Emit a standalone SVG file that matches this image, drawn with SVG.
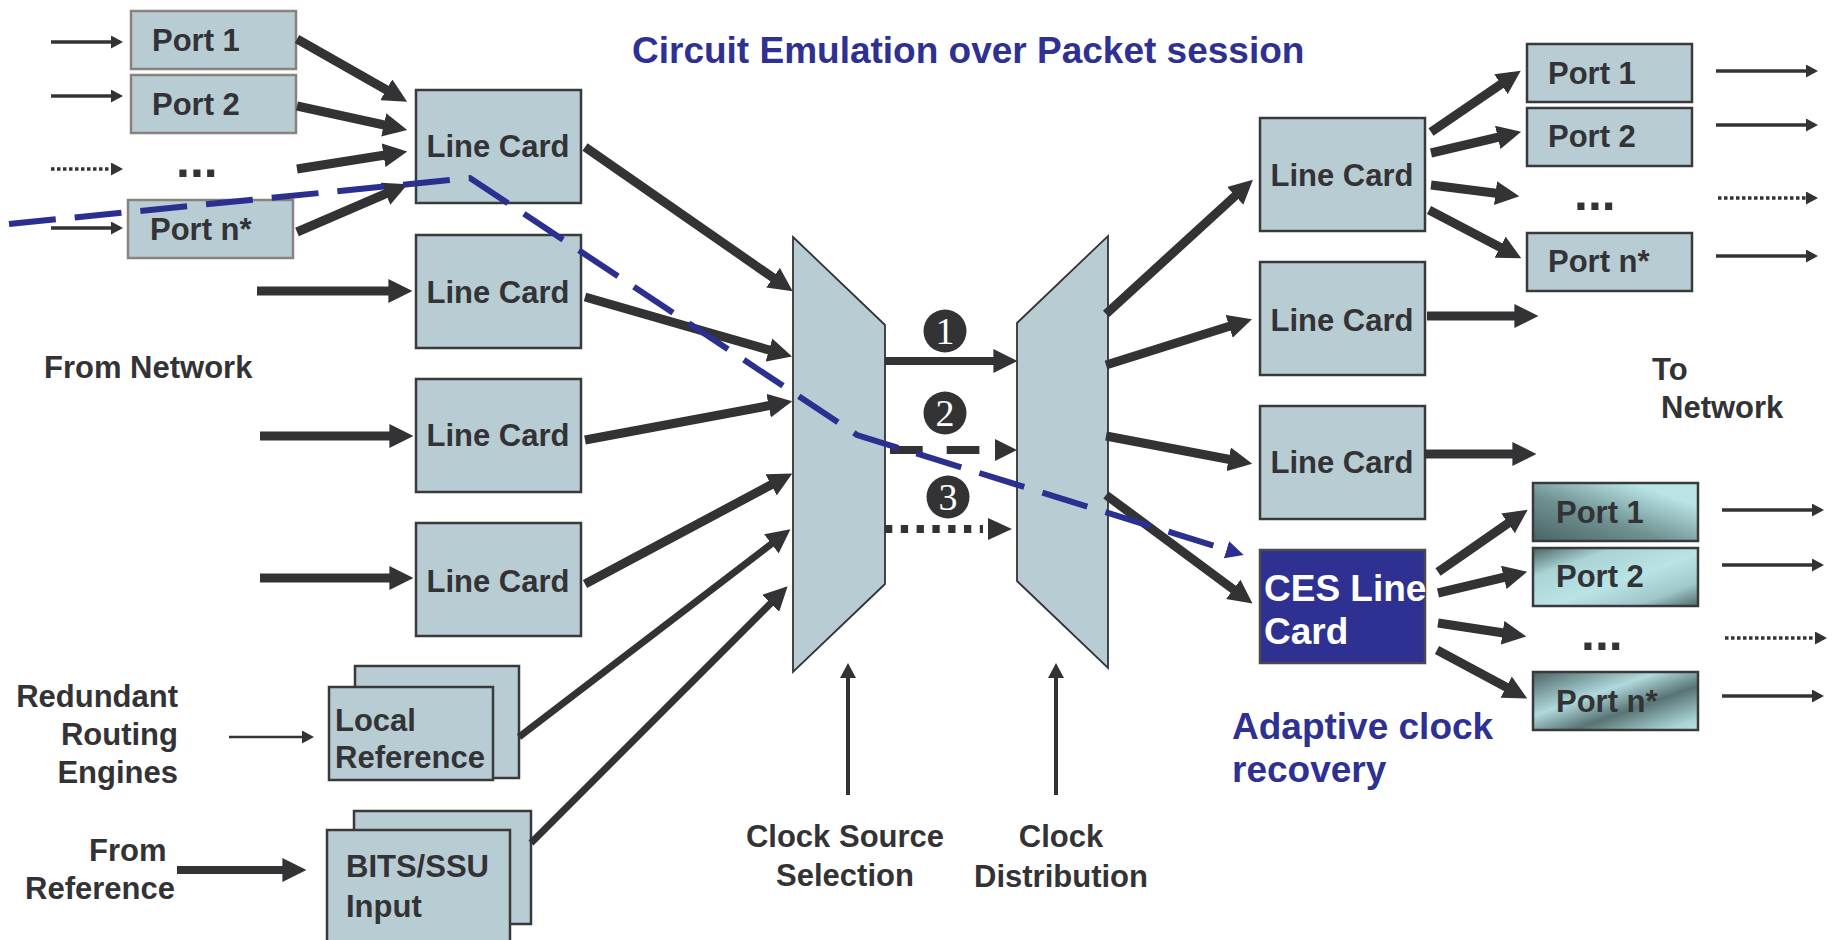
<svg xmlns="http://www.w3.org/2000/svg" width="1833" height="940" viewBox="0 0 1833 940">
  <style>
    .t { font-family: "Liberation Sans", Arial, Helvetica, sans-serif; font-weight: 700; font-size: 31px; fill: #333336; }
    .mid { text-anchor: middle; }
    .end { text-anchor: end; }
    .blue { font-size: 37px; fill: #2e3192; }
    .ces { font-size: 37px; fill: #ffffff; }
    .dots { font-size: 50px; }
    .num { font-family: "Liberation Serif", "Times New Roman", serif; font-size: 38px; fill: #ffffff; text-anchor: middle; }
    .box { fill: #b8ccd4; stroke: #3a3a3c; stroke-width: 2.5; }
    .pbox { fill: #b8ccd4; stroke: #8a827f; stroke-width: 2.5; }
    .gbox { stroke: #3a3a3c; stroke-width: 2.5; }
    .trap { fill: #b8ccd4; stroke: #333336; stroke-width: 1.8; stroke-linejoin: miter; }
    .cesbox { fill: #2e3192; stroke: #4a4a4e; stroke-width: 2.5; }
    .thick { fill: none; stroke: #333336; stroke-width: 9; marker-end: url(#headL); }
    .med { fill: none; stroke: #333336; stroke-width: 7; marker-end: url(#headL); }
    .thin { fill: none; stroke: #333336; stroke-width: 3.5; marker-end: url(#headS); }
    .dotted { stroke-dasharray: 3.5 2.5; }
    .up { fill: none; stroke: #333336; stroke-width: 4; marker-end: url(#headU); }
    .head { fill: #333336; }
    .ce { fill: none; stroke: #2b2f90; stroke-width: 6; stroke-dasharray: 47 19; marker-end: url(#headB); }
    .badge { fill: #333336; }
  </style>
  <defs>
    <!-- large arrowhead: tip sits 9px beyond the line end so the butt end stays hidden -->
    <marker id="headL" markerUnits="userSpaceOnUse" markerWidth="24" markerHeight="24" refX="14" refY="11.5" orient="auto" viewBox="0 0 23 23">
      <path d="M0,0 L23,11.5 L0,23 z" fill="#333336"/>
    </marker>
    <marker id="headS" markerUnits="userSpaceOnUse" markerWidth="12" markerHeight="13" refX="9" refY="6.5" orient="auto" viewBox="0 0 12 13">
      <path d="M0,0 L12,6.5 L0,13 z" fill="#333336"/>
    </marker>
    <marker id="headU" markerUnits="userSpaceOnUse" markerWidth="15" markerHeight="16" refX="11" refY="8" orient="auto" viewBox="0 0 15 16">
      <path d="M0,0 L15,8 L0,16 z" fill="#333336"/>
    </marker>
    <marker id="headB" markerUnits="userSpaceOnUse" markerWidth="18" markerHeight="18" refX="11" refY="9" orient="auto" viewBox="0 0 18 18">
      <path d="M0,0 L18,9 L0,18 z" fill="#2b2f90"/>
    </marker>
    <linearGradient id="gP1" x1="0" y1="1" x2="1" y2="0">
      <stop offset="0" stop-color="#4a6464"/>
      <stop offset="0.4" stop-color="#6f9192"/>
      <stop offset="0.8" stop-color="#b9e3e5"/>
      <stop offset="1" stop-color="#b9e3e5"/>
    </linearGradient>
    <linearGradient id="gP2" x1="0" y1="0" x2="1" y2="1">
      <stop offset="0" stop-color="#4a6464"/>
      <stop offset="0.25" stop-color="#a9d3d5"/>
      <stop offset="0.55" stop-color="#b9e3e5"/>
      <stop offset="0.8" stop-color="#a0c8ca"/>
      <stop offset="1" stop-color="#4f6a6a"/>
    </linearGradient>
    <linearGradient id="gPn" x1="0" y1="0" x2="1" y2="1">
      <stop offset="0" stop-color="#4a6464"/>
      <stop offset="0.38" stop-color="#b0d9db"/>
      <stop offset="0.62" stop-color="#587373"/>
      <stop offset="0.9" stop-color="#a9d3d5"/>
      <stop offset="1" stop-color="#b9e3e5"/>
    </linearGradient>
  </defs>

  <rect width="1833" height="940" fill="#ffffff"/>

  <!-- free labels -->
  <g id="labels">
    <text class="t blue" x="632" y="63">Circuit Emulation over Packet session</text>
    <text class="t" x="44" y="378">From Network</text>
    <text class="t" x="1652" y="380">To</text>
    <text class="t" x="1661" y="418">Network</text>
    <text class="t end" x="178" y="707">Redundant</text>
    <text class="t end" x="178" y="745">Routing</text>
    <text class="t end" x="178" y="783">Engines</text>
    <text class="t" x="89" y="861">From</text>
    <text class="t" x="25" y="899">Reference</text>
    <text class="t mid" x="845" y="847">Clock Source</text>
    <text class="t mid" x="845" y="886">Selection</text>
    <text class="t mid" x="1061" y="847">Clock</text>
    <text class="t mid" x="1061" y="887">Distribution</text>
    <text class="t blue" x="1232" y="739">Adaptive clock</text>
    <text class="t blue" x="1232" y="782">recovery</text>
    <text class="t dots" x="176" y="177">...</text>
    <text class="t dots" x="1574" y="210">...</text>
    <text class="t dots" x="1581" y="650">...</text>
  </g>

  <!-- ingress ports -->
  <g id="in-port-1"><rect class="pbox" x="131" y="11" width="165" height="58"/><text class="t" x="152" y="51">Port 1</text></g>
  <g id="in-port-2"><rect class="pbox" x="131" y="75" width="165" height="58"/><text class="t" x="152" y="115">Port 2</text></g>
  <g id="in-port-n"><rect class="pbox" x="128" y="200" width="165" height="58"/><text class="t" x="150" y="240">Port n*</text></g>

  <!-- ingress line cards -->
  <g id="in-lc-1"><rect class="box" x="416" y="90" width="165" height="113"/><text class="t mid" x="498" y="157">Line Card</text></g>
  <g id="in-lc-2"><rect class="box" x="416" y="235" width="165" height="113"/><text class="t mid" x="498" y="303">Line Card</text></g>
  <g id="in-lc-3"><rect class="box" x="416" y="379" width="165" height="113"/><text class="t mid" x="498" y="446">Line Card</text></g>
  <g id="in-lc-4"><rect class="box" x="416" y="523" width="165" height="113"/><text class="t mid" x="498" y="592">Line Card</text></g>

  <!-- reference sources -->
  <g id="local-reference">
    <rect class="box" x="355" y="666" width="164" height="112"/>
    <rect class="box" x="329" y="687" width="164" height="93"/>
    <text class="t" x="335" y="731">Local</text>
    <text class="t" x="335" y="768">Reference</text>
  </g>
  <g id="bits-ssu">
    <rect class="box" x="354" y="811" width="177" height="113"/>
    <rect class="box" x="327" y="830" width="183" height="120"/>
    <text class="t" x="346" y="877">BITS/SSU</text>
    <text class="t" x="346" y="917">Input</text>
  </g>

  <!-- clock source selection and distribution stages -->
  <g id="clock-select"><polygon class="trap" points="793,237 885,325 885,584 793,672"/></g>
  <g id="clock-distribute"><polygon class="trap" points="1017,323 1108,236 1108,668 1017,581"/></g>

  <!-- egress line cards -->
  <g id="out-lc-1"><rect class="box" x="1260" y="118" width="165" height="113"/><text class="t mid" x="1342" y="186">Line Card</text></g>
  <g id="out-lc-2"><rect class="box" x="1260" y="262" width="165" height="113"/><text class="t mid" x="1342" y="331">Line Card</text></g>
  <g id="out-lc-3"><rect class="box" x="1260" y="406" width="165" height="113"/><text class="t mid" x="1342" y="473">Line Card</text></g>
  <g id="ces-lc">
    <rect class="cesbox" x="1260" y="550" width="165" height="113"/>
    <text class="t ces" x="1264" y="601">CES Line</text>
    <text class="t ces" x="1264" y="644">Card</text>
  </g>

  <!-- egress ports -->
  <g id="out-port-1"><rect class="box" x="1527" y="44" width="165" height="58"/><text class="t" x="1548" y="84">Port 1</text></g>
  <g id="out-port-2"><rect class="box" x="1527" y="108" width="165" height="58"/><text class="t" x="1548" y="147">Port 2</text></g>
  <g id="out-port-n"><rect class="box" x="1527" y="233" width="165" height="58"/><text class="t" x="1548" y="272">Port n*</text></g>
  <g id="ces-port-1"><rect class="gbox" fill="url(#gP1)" x="1533" y="483" width="165" height="58"/><text class="t" x="1556" y="523">Port 1</text></g>
  <g id="ces-port-2"><rect class="gbox" fill="url(#gP2)" x="1533" y="548" width="165" height="58"/><text class="t" x="1556" y="587">Port 2</text></g>
  <g id="ces-port-n"><rect class="gbox" fill="url(#gPn)" x="1533" y="672" width="165" height="58"/><text class="t" x="1556" y="712">Port n*</text></g>

  <!-- numbered clock paths -->
  <g id="badges">
    <circle class="badge" cx="945" cy="331" r="21.5"/><text class="num" x="945" y="344">1</text>
    <circle class="badge" cx="945" cy="413" r="21.5"/><text class="num" x="945" y="426">2</text>
    <circle class="badge" cx="948" cy="497" r="21.5"/><text class="num" x="948" y="510">3</text>
  </g>

  <g id="connectors">
    <!-- ingress feeds -->
    <path class="thin" d="M51,42 H120"/>
    <path class="thin" d="M51,96 H120"/>
    <path class="thin dotted" d="M51,169 H120"/>
    <path class="thin" d="M51,228 H120"/>
    <path class="thick" d="M257,291 H403"/>
    <path class="thick" d="M260,436 H404"/>
    <path class="thick" d="M260,578 H404"/>

    <!-- ports into first line card -->
    <path class="thick" d="M297,39 L399,97"/>
    <path class="thick" d="M297,106 L398,128"/>
    <path class="thick" d="M297,169 L398,153"/>
    <path class="thick" d="M297,232 L399,188"/>

    <!-- line cards and references into selection stage -->
    <path class="thick" d="M585,147 L785,286"/>
    <path class="thick" d="M585,297 L783,354"/>
    <path class="thick" d="M585,440 L783,403"/>
    <path class="thick" d="M585,584 L784,478"/>
    <path class="med" d="M519,737 L783,535"/>
    <path class="med" d="M531,843 L781,593"/>
    <path class="thin" style="stroke-width:2.5" d="M229,737 L311,737"/>
    <path class="thick" style="stroke-width:8" d="M177,870 H297"/>

    <!-- selection to distribution: 1 solid, 2 dashed, 3 dotted -->
    <path class="thick" style="stroke-width:8" d="M885,361 H1008"/>
    <path fill="none" stroke="#333336" stroke-width="8" stroke-dasharray="32.7 24" d="M890,450 H979.4"/>
    <polygon class="head" points="995,439 1017,450 995,461"/>
    <path fill="none" stroke="#333336" stroke-width="8" stroke-dasharray="7.3 8.5" d="M885,529 H983"/>
    <polygon class="head" points="988,518 1012,529 988,540"/>

    <!-- clock control inputs -->
    <path class="up" d="M848,795 V667"/>
    <path class="up" d="M1056,795 V667"/>

    <!-- distribution to egress cards -->
    <path class="thick" d="M1106,314 L1246,186"/>
    <path class="thick" d="M1106,365 L1243,322"/>
    <path class="thick" d="M1106,436 L1243,462"/>
    <path class="thick" d="M1106,495 L1245,598"/>

    <!-- egress card to ports -->
    <path class="thick" d="M1431,132 L1513,76"/>
    <path class="thick" d="M1431,153 L1512,134"/>
    <path class="thick" d="M1431,185 L1510,195"/>
    <path class="thick" d="M1429,210 L1513,254"/>
    <path class="thick" d="M1427,316 H1529"/>
    <path class="thick" d="M1424,454 H1527"/>

    <!-- CES card to ports -->
    <path class="thick" d="M1438,572 L1520,515"/>
    <path class="thick" d="M1438,593 L1518,574"/>
    <path class="thick" d="M1438,623 L1517,635"/>
    <path class="thick" d="M1437,650 L1519,694"/>

    <!-- egress feeds -->
    <path class="thin" d="M1716,71 H1815"/>
    <path class="thin" d="M1716,125 H1815"/>
    <path class="thin dotted" d="M1718,198 H1815"/>
    <path class="thin" d="M1716,256 H1815"/>
    <path class="thin" d="M1722,510 H1821"/>
    <path class="thin" d="M1722,565 H1821"/>
    <path class="thin dotted" d="M1725,638 H1824"/>
    <path class="thin" d="M1722,696 H1821"/>

    <!-- circuit emulation session path -->
    <path class="ce" d="M9,224 L470,178 L857,435 L1237,553"/>
  </g>
</svg>
